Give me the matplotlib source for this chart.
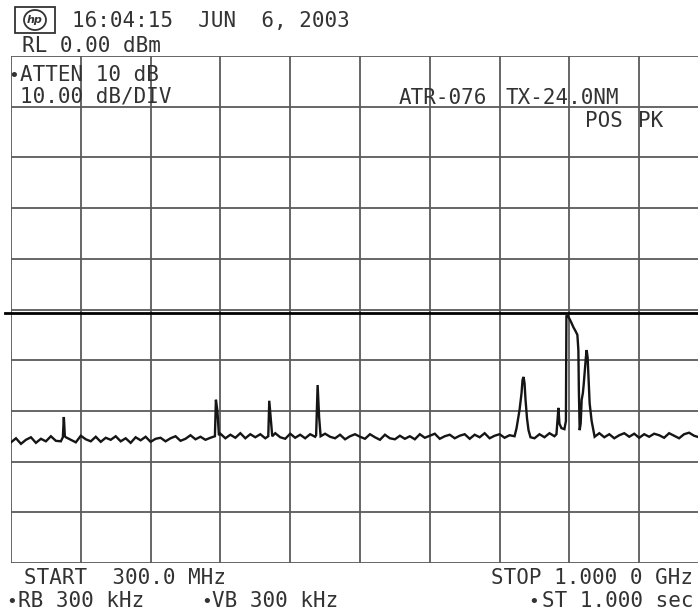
#!/usr/bin/env python3
"""Spectrum analyzer screen dump (300 MHz - 1 GHz, 10 dB/div)."""

import numpy as np
import matplotlib
matplotlib.use("Agg")
import matplotlib.pyplot as plt
from matplotlib.patches import Rectangle, Ellipse

W, H = 698, 613

START_MHZ = 300.0
STOP_MHZ = 1000.0
REF_DBM = 0.0
DB_PER_DIV = 10.0
DISPLAY_LINE_DBM = -50.7

# noise floor, read every 5 MHz from 300 to 1000 MHz
floor_mhz = list(range(300, 1001, 5))
floor_dbm = [
    -76.2, -75.4, -76.5, -75.7, -75.2, -76.3, -75.5, -76.0, -75.0, -75.9,
    -76.0, -75.2, -75.7, -76.2, -74.9, -75.6, -76.0, -75.1, -76.1, -75.3,
    -75.7, -75.0, -76.0, -75.4, -76.3, -75.2, -75.8, -75.1, -76.1, -75.5,
    -75.3, -76.0, -75.4, -75.0, -75.9, -75.5, -74.8, -75.6, -75.1, -75.7,
    -75.3, -74.8, -74.5, -75.4, -74.7, -75.3, -74.4, -75.4, -74.6, -75.2,
    -74.6, -75.4, -74.8, -74.4, -75.2, -75.5, -74.5, -75.3, -74.7, -75.4,
    -74.6, -75.1, -75.5, -74.5, -75.1, -75.4, -74.7, -75.6, -75.0, -74.6,
    -75.1, -75.5, -74.6, -75.2, -75.7, -74.7, -75.4, -75.6, -74.9, -75.5,
    -75.0, -75.6, -74.6, -75.3, -74.9, -74.5, -75.5, -75.0, -74.7, -75.4,
    -74.9, -74.6, -75.5, -74.7, -75.2, -74.4, -75.4, -74.9, -74.6, -75.3,
    -74.8, -75.0, -74.8, -75.1, -74.7, -75.4, -74.6, -75.2, -74.4, -75.0,
    -74.4, -74.8, -74.6, -75.0, -74.7, -74.9, -75.1, -74.6, -74.4, -75.2,
    -74.6, -75.4, -74.8, -74.4, -75.1, -74.5, -75.3, -74.6, -75.1, -74.5,
    -74.8, -75.3, -74.4, -74.9, -75.4, -74.6, -74.3, -74.9, -75.2, -74.5,
    -74.9,
]

# signals above the floor (MHz, dBm)
sig_353 = [(352.0, -75.2), (353.0, -71.2), (354.0, -75.0)]
sig_506 = [(504.5, -75.0), (505.5, -67.8), (507.0, -70.0), (508.5, -74.8)]
sig_559 = [(558.0, -75.0), (559.0, -68.0), (560.5, -71.5), (562.0, -75.0)]
sig_607 = [(606.0, -74.8), (607.5, -64.9), (609.0, -71.2), (610.5, -75.0)]
sig_814 = [(805.0, -75.0), (807.0, -73.4), (810.0, -69.8), (812.0, -66.5),
           (813.0, -63.9), (814.0, -63.3), (815.0, -64.5), (816.0, -67.8),
           (817.5, -71.5), (819.0, -73.8), (821.0, -75.2)]
sig_849 = [(847.0, -74.6), (848.0, -72.0), (849.0, -69.4), (850.0, -72.5),
           (852.0, -73.4), (855.0, -73.6), (856.5, -72.0), (857.0, -51.3),
           (858.0, -51.1), (860.0, -51.8), (862.0, -52.6), (864.0, -53.5),
           (866.0, -54.2), (868.0, -55.0), (869.0, -58.0), (869.5, -66.0),
           (870.3, -73.8), (871.3, -72.5), (872.3, -67.8), (873.5, -66.5),
           (874.3, -64.9), (875.5, -62.0), (876.5, -59.5), (877.3, -58.0),
           (878.3, -59.5), (879.3, -64.0), (880.3, -68.5), (882.3, -72.0),
           (885.3, -75.1)]
signals = [sig_353, sig_506, sig_559, sig_607, sig_814, sig_849]

TEXT_COLOR = "#333333"
GRID_COLOR = "#5a5a5a"
FONT = "DejaVu Sans Mono"
FS = 15


def fx(px):
    return px / W


def fy(py):
    return 1.0 - py / H


def build_trace():
    pts = []
    for f, d in zip(floor_mhz, floor_dbm):
        if any(s[0][0] <= f <= s[-1][0] for s in signals):
            continue
        pts.append((f, d))
    for s in signals:
        pts.extend(s)
    pts.sort()
    return [p[0] for p in pts], [p[1] for p in pts]


def main():
    fig = plt.figure(figsize=(W / 100, H / 100), dpi=100)
    fig.patch.set_facecolor("white")

    # graticule: left edge 11 px, 69.8 px/div, top 56 px, bottom 563 px
    ax = fig.add_axes([fx(11), fy(563), 698 / W, 507 / H])
    ax.set_xlim(START_MHZ, STOP_MHZ)
    ax.set_ylim(REF_DBM - 10 * DB_PER_DIV, REF_DBM)
    ax.axis("off")

    div_mhz = (STOP_MHZ - START_MHZ) / 10
    for i in range(11):
        ax.axvline(START_MHZ + i * div_mhz, color=GRID_COLOR, lw=1.3)
        ax.axhline(REF_DBM - i * DB_PER_DIV, color=GRID_COLOR, lw=1.3)

    ax.plot([START_MHZ - 6, STOP_MHZ + 10], [DISPLAY_LINE_DBM] * 2,
            color="black", lw=2.0, clip_on=False)

    xs, ys = build_trace()
    ax.plot(xs, ys, color="#151515", lw=1.7, solid_joinstyle="miter")

    def put(x, y, s, ha="left"):
        fig.text(fx(x), fy(y), s, fontsize=FS, family=FONT, color=TEXT_COLOR,
                 ha=ha, va="baseline")

    def bullet(x, y):
        fig.text(fx(x), fy(y), "\u2022", fontsize=13, family=FONT,
                 color=TEXT_COLOR, ha="left", va="baseline")

    # hp logo box
    fig.add_artist(Rectangle((fx(15), fy(33)), 40 / W, 26 / H,
                             transform=fig.transFigure, fill=False,
                             ec=TEXT_COLOR, lw=1.3))
    fig.add_artist(Ellipse((fx(35), fy(20)), 22 / W, 20 / H,
                           transform=fig.transFigure, fill=False,
                           ec=TEXT_COLOR, lw=1.3))
    fig.text(fx(35), fy(20), "hp", fontsize=8, family="DejaVu Sans",
             style="italic", weight="bold", color=TEXT_COLOR,
             ha="center", va="center")

    put(72, 27, "16:04:15  JUN  6, 2003")
    put(22, 52, "RL 0.00 dBm")

    bullet(8, 81)
    put(20, 81, "ATTEN 10 dB")
    put(20, 102, "10.00 dB/DIV")
    put(399, 104, "ATR-076")
    put(505, 104, "TX-24.0NM")
    put(585, 127, "POS")
    put(638, 127, "PK")

    put(24, 584, "START  300.0 MHz")
    put(693, 584, "STOP 1.000 0 GHz", ha="right")
    bullet(6, 607)
    put(18, 607, "RB 300 kHz")
    bullet(201, 607)
    put(212, 607, "VB 300 kHz")
    bullet(528, 607)
    put(693, 607, "ST 1.000 sec", ha="right")

    fig.savefig("out.png", dpi=100)
    plt.close(fig)


if __name__ == "__main__":
    main()
